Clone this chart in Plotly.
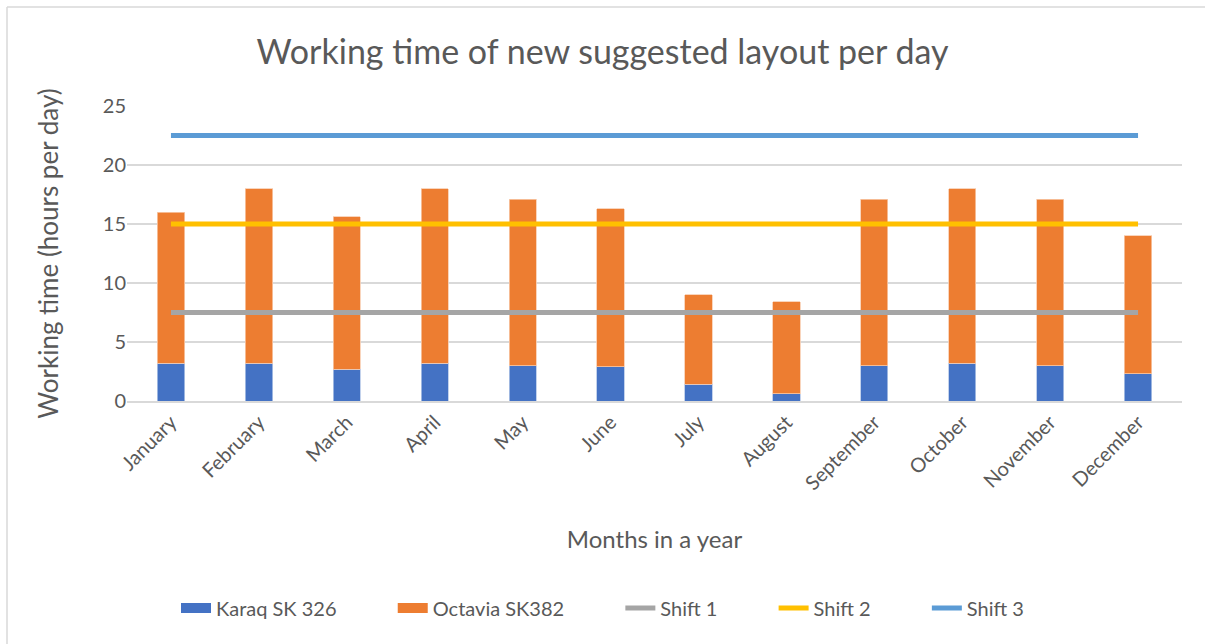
import plotly.graph_objects as go

months = ["January", "February", "March", "April", "May", "June", "July",
          "August", "September", "October", "November", "December"]
karaq_sk326 = [3.2, 3.2, 2.7, 3.2, 3.0, 2.9, 1.4, 0.6, 3.0, 3.2, 3.0, 2.3]
octavia_sk382 = [12.8, 14.8, 12.9, 14.8, 14.1, 13.4, 7.6, 7.8, 14.1, 14.8, 14.1, 11.7]
shift_1 = [7.5] * 12
shift_2 = [15] * 12
shift_3 = [22.5] * 12

FONT = "Lato, 'Open Sans', sans-serif"
GREY = "#595959"
BLUE, ORANGE = "#4472C4", "#ED7D31"
PAD = "\u00a0" * 10  # extra spacing between legend entries

fig = go.Figure()
fig.add_trace(go.Bar(x=months, y=karaq_sk326, name="Karaq SK 326", showlegend=False,
                     legendgroup="k",
                     marker=dict(color=BLUE, line=dict(color="#B4C7E7", width=0.8))))
fig.add_trace(go.Bar(x=months, y=octavia_sk382, name="Octavia SK382", showlegend=False,
                     legendgroup="o",
                     marker=dict(color=ORANGE, line=dict(color="#F8CBAD", width=0.8))))
# wide rectangular legend keys for the two bar series
fig.add_trace(go.Scatter(x=[None], y=[None], mode="lines", name="Karaq SK 326" + PAD,
                         legendgroup="k", line=dict(color=BLUE, width=14)))
fig.add_trace(go.Scatter(x=[None], y=[None], mode="lines", name="Octavia SK382" + PAD,
                         legendgroup="o", line=dict(color=ORANGE, width=14)))
for name, vals, col in [("Shift 1" + PAD, shift_1, "#A5A5A5"),
                        ("Shift 2" + PAD, shift_2, "#FFC000"),
                        ("Shift 3", shift_3, "#5B9BD5")]:
    fig.add_trace(go.Scatter(x=months, y=vals, name=name, mode="lines",
                             line=dict(color=col, width=5)))

W, H = 1205, 644
L, R, T, B = 127, 23, 106, 243
pw, ph = W - L - R, H - T - B

def px_x(x):
    return (x - L) / pw

def px_y(y):
    return (H - B - y) / ph

fig.update_layout(
    width=W, height=H,
    margin=dict(l=L, r=R, t=T, b=B),
    paper_bgcolor="white", plot_bgcolor="white",
    barmode="stack", bargap=0.69,
    font=dict(family=FONT, color=GREY, size=19),
    title=dict(text="Working time of new suggested layout per day",
               x=0.5, xanchor="center", y=1 - 52 / H, yanchor="middle",
               font=dict(size=34, color=GREY, family=FONT)),
    xaxis=dict(title=dict(text="Months in a year", font=dict(size=24, color=GREY), standoff=38),
               tickangle=-45, tickfont=dict(size=20, color=GREY),
               showgrid=False, showline=True, linecolor="#D9D9D9", linewidth=1.5,
               ticks=""),
    yaxis=dict(title=dict(text="Working time (hours per day)", font=dict(size=26, color=GREY), standoff=36),
               range=[0, 25], dtick=5, tickfont=dict(size=20, color=GREY),
               showgrid=True, gridcolor="#D9D9D9", gridwidth=1.5,
               zeroline=False, showline=False, ticks="", ticklen=0),
    legend=dict(orientation="h", x=px_x(176), xanchor="left", y=px_y(608), yanchor="middle",
                font=dict(size=20, color=GREY), traceorder="normal",
                itemclick=False),
    shapes=[
        dict(type="line", xref="paper", yref="paper", x0=px_x(7), x1=px_x(1210),
             y0=px_y(7), y1=px_y(7), line=dict(color="#D9D9D9", width=1.5)),
        dict(type="line", xref="paper", yref="paper", x0=px_x(7), x1=px_x(7),
             y0=px_y(7), y1=px_y(650), line=dict(color="#D9D9D9", width=1.5)),
    ],
)

fig.write_html("out.html")
